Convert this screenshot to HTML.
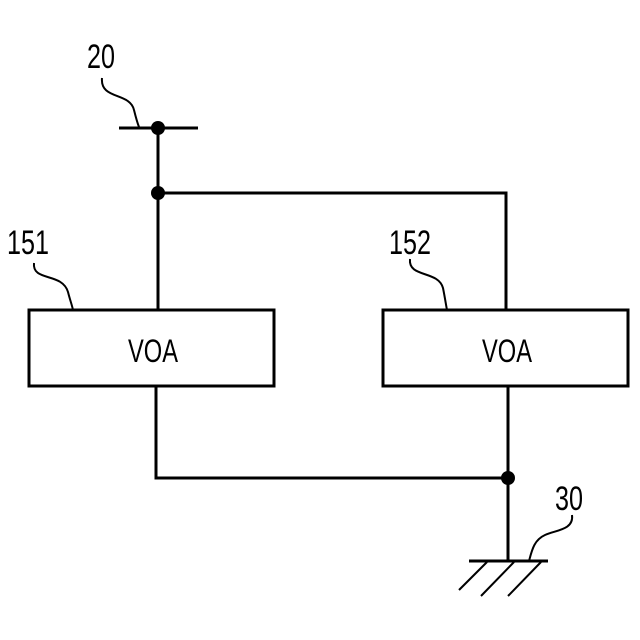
<!DOCTYPE html>
<html><head><meta charset="utf-8"><style>
html,body{margin:0;padding:0;background:#fff;}
svg{display:block;}
text{font-family:"Liberation Sans",sans-serif;fill:#000;}
</style></head><body>
<svg width="640" height="640" viewBox="0 0 640 640" xmlns="http://www.w3.org/2000/svg">
<g stroke="#000" stroke-width="3" fill="none">
<line x1="119" y1="128" x2="198" y2="128"/>
<line x1="158" y1="128" x2="158" y2="310"/>
<polyline points="158,193 506,193 506,310"/>
<rect x="29" y="310" width="245" height="76"/>
<rect x="383" y="310" width="245" height="76"/>
<polyline points="156,386 156,478 508,478"/>
<line x1="508" y1="386" x2="508" y2="561"/>
<line x1="469" y1="561" x2="548" y2="561"/>
</g>
<g stroke="#000" stroke-width="2" fill="none">
<line x1="487" y1="562" x2="459" y2="590"/>
<line x1="514" y1="562" x2="481" y2="596"/>
<line x1="541" y1="562" x2="508" y2="596"/>
<path d="M102,78 C100,100 130,92 134,110 C136,118 137,122 139,127"/>
<path d="M34,263 C32,282 62,272 68,292 C70,300 72,305 73,310"/>
<path d="M410,259 C408,278 438,270 443,288 C445,298 446,305 447,310"/>
<path d="M572,515 C574,530 556,530 545,535 C534,540 532,550 529,561"/>
</g>
<g fill="#000">
<circle cx="158" cy="128" r="7"/>
<circle cx="158" cy="193" r="7"/>
<circle cx="508" cy="478" r="7"/>
</g>
<g font-size="34">
<text transform="translate(87,68) scale(0.74,1)">20</text>
<text transform="translate(7,254) scale(0.74,1)">151</text>
<text transform="translate(389,254) scale(0.74,1)">152</text>
<text transform="translate(555,510) scale(0.74,1)">30</text>
</g>
<g font-size="32">
<text transform="translate(153,362) scale(0.74,1)" text-anchor="middle">VOA</text>
<text transform="translate(507,362) scale(0.74,1)" text-anchor="middle">VOA</text>
</g>
</svg>
</body></html>
